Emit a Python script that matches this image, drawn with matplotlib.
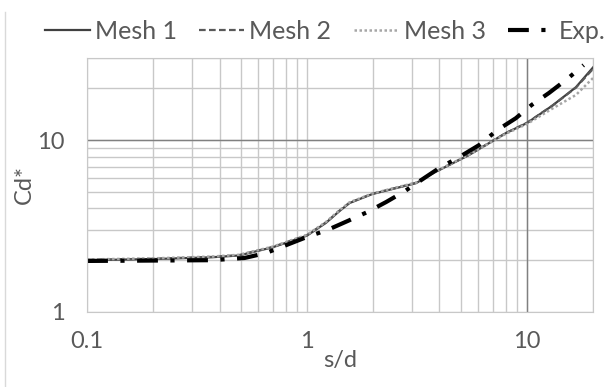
import matplotlib.pyplot as plt
from matplotlib.lines import Line2D

plt.rcParams['font.family'] = ['Lato', 'DejaVu Sans']

# Mesh results (Mesh 1 and 2 nearly coincide, Mesh 3 drops off at large s/d)
mesh_x = [0.1, 0.2, 0.37, 0.49, 0.7, 1.0, 1.22, 1.4, 1.56, 1.98, 2.55, 3.14, 3.6,
          5.45, 8.04, 10.0, 13.0, 16.7, 20.0]
mesh1_y = [2.0, 2.03, 2.08, 2.13, 2.38, 2.78, 3.3, 3.85, 4.3, 4.85, 5.26, 5.62, 6.26,
           8.18, 11.0, 12.56, 15.8, 20.3, 26.5]
mesh2_y = [2.01, 2.04, 2.09, 2.14, 2.39, 2.8, 3.32, 3.87, 4.32, 4.87, 5.28, 5.64, 6.28,
           8.2, 11.0, 12.6, 15.8, 20.2, 26.0]
mesh3_y = [2.02, 2.05, 2.1, 2.15, 2.4, 2.81, 3.34, 3.89, 4.34, 4.88, 5.3, 5.66, 6.3,
           8.22, 10.9, 12.4, 15.2, 18.3, 23.0]

# Experimental curve
exp_x = [0.1, 0.2, 0.37, 0.52, 0.65, 1.0, 1.24, 1.53, 1.88, 2.29, 2.79, 3.14,
         3.99, 4.92, 6.06, 7.31, 8.9, 10.5, 12.6, 15.2, 18.1]
exp_y = [1.98, 1.99, 2.0, 2.06, 2.2, 2.73, 3.0, 3.38, 3.81, 4.36, 5.05, 5.6,
         6.87, 7.96, 9.35, 11.4, 13.4, 16.0, 18.8, 22.6, 27.3]

text_color = '#595959'

fig = plt.figure(figsize=(6.09, 3.87), dpi=100)
ax = fig.add_axes([0.143, 0.194, 0.831, 0.656])

ax.plot(mesh_x, mesh1_y, color='#404040', lw=1.6, label='Mesh 1')
ax.plot(mesh_x, mesh2_y, color='#595959', lw=1.6, ls=(0, (3, 1.5)), label='Mesh 2')
ax.plot(mesh_x, mesh3_y, color='#a6a6a6', lw=1.8, ls=(0, (1, 1)), label='Mesh 3')
ax.plot(exp_x, exp_y, color='black', lw=3, ls=(0, (5, 3, 1, 3)), label='Exp.')

ax.set_xscale('log')
ax.set_yscale('log')
ax.set_xlim(0.1, 20)
ax.set_ylim(1, 30)

ax.set_xticks([0.1, 1, 10])
ax.set_xticklabels(['0.1', '1', '10'])
ax.set_yticks([1, 10])
ax.set_yticklabels(['1', '10'])

ax.grid(True, which='both', color='#c8c8c8', lw=1.0)
ax.axvline(10, color='#808080', lw=1.0, zorder=1)
ax.axhline(10, color='#808080', lw=1.0, zorder=1)
ax.set_axisbelow(True)

ax.tick_params(which='both', length=0, labelsize=17, labelcolor=text_color)
ax.tick_params(axis='x', pad=14)
ax.tick_params(axis='y', pad=16)
for side in ax.spines.values():
    side.set_color('#c8c8c8')

ax.set_xlabel('s/d', fontsize=17, color=text_color, labelpad=-2)
ax.set_ylabel('Cd*', fontsize=17, color=text_color, labelpad=2)

ax.legend(loc='lower center', bbox_to_anchor=(0.47, 1.0), ncol=4, frameon=False,
          fontsize=18, labelcolor=text_color, handlelength=1.8, handletextpad=0.2,
          columnspacing=0.9, borderaxespad=0.2)

# thin frame line at the left edge of the picture
fig.add_artist(Line2D([0.008, 0.008], [0.0, 0.97], color='#d9d9d9', lw=1))

fig.savefig('out.png', dpi=100)
